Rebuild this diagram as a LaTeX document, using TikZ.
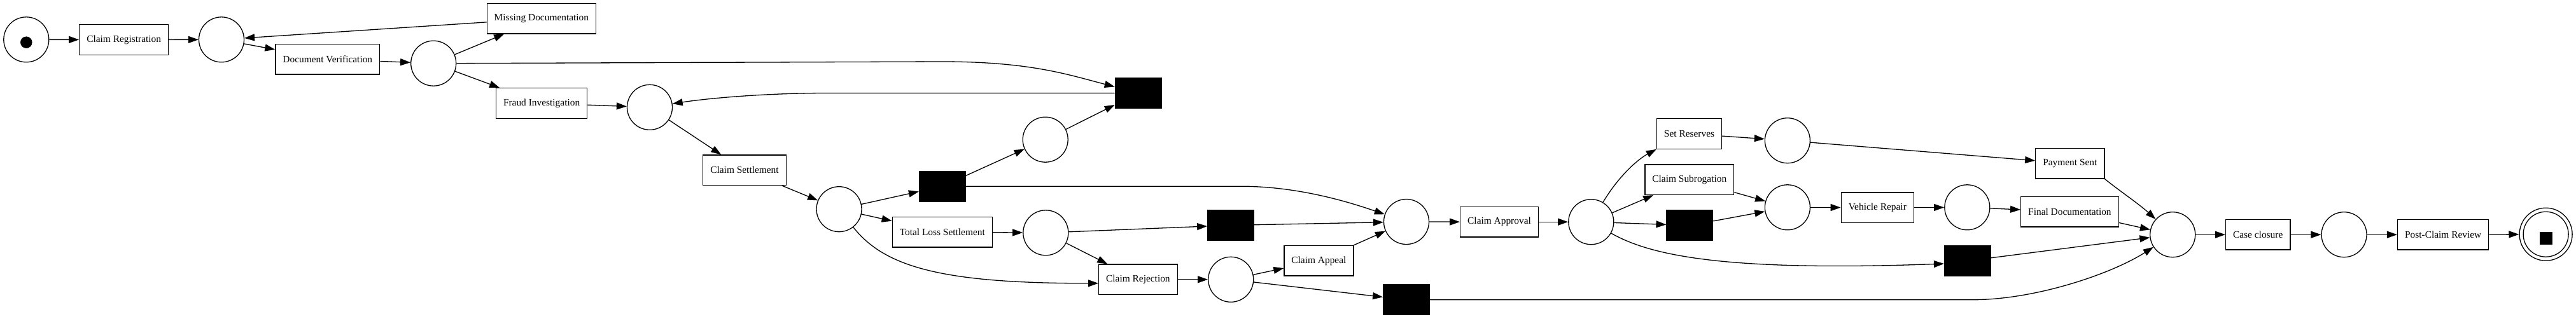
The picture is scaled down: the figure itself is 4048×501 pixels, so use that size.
\documentclass[tikz,border=0pt]{standalone}
\usepackage{fontspec}
\setmainfont{Liberation Serif}
\usetikzlibrary{arrows.meta}
\begin{document}
\begin{tikzpicture}[x=1pt,y=-1pt,
  every node/.style={font=\fontsize{15.4}{18}\selectfont},
  place/.style={draw, circle, line width=1.3pt, minimum size=71pt, inner sep=0pt},
  trans/.style={draw, rectangle, line width=1.3pt, minimum height=47.5pt, inner xsep=11.5pt, inner ysep=0pt},
  silent/.style={draw, fill=black, rectangle, line width=1.3pt, minimum width=72.5pt, minimum height=48pt, inner sep=0pt},
  arr/.style={line width=1.3pt, -{Triangle[length=16pt,width=11pt]}}
]
\useasboundingbox (0,0) rectangle (4048,501);

% places
\node[place] (start) at (41.3,62.3) {};
\node[circle, fill=black, minimum size=18.5pt, inner sep=0pt] (tokA) at (41.3,66.7) {};
\node[place] (p1) at (348,62.3) {};
\node[place] (p2) at (681.2,99.7) {};
\node[place] (p3) at (1021,168.8) {};
\node[place] (p4) at (1318.5,329.2) {};
\node[place] (p5) at (1642.7,219.7) {};
\node[place] (p6) at (1643.3,366.3) {};
\node[place] (p7) at (2210,349) {};
\node[place] (p8) at (1934.2,439.8) {};
\node[place] (p9) at (2500.3,349.2) {};
\node[place] (p10) at (2808.9,221.2) {};
\node[place] (p11) at (2808.9,326.3) {};
\node[place] (p12) at (3091.3,326.3) {};
\node[place] (p13) at (3414.2,369.2) {};
\node[place] (p14) at (3683.5,369.2) {};
\node[place, minimum size=83pt] (end) at (4000.6,368.7) {};
\draw[line width=1.3pt] (end.center) circle[radius=35.5pt];
\node[rectangle, fill=black, minimum size=20pt, inner sep=0pt] (tokB) at (4001.2,375) {};

% transitions
\node[trans] (cr) at (194.7,62.5) {Claim Registration};
\node[trans] (dv) at (514.8,93.2) {Document Verification};
\node[trans] (md) at (850.9,29.2) {Missing Documentation};
\node[trans] (fi) at (851.1,162.5) {Fraud Investigation};
\node[trans] (cs) at (1170,267.7) {Claim Settlement};
\node[trans] (tls) at (1480.8,365.2) {Total Loss Settlement};
\node[trans] (crej) at (1788.4,439.8) {Claim Rejection};
\node[trans] (capp) at (2072.4,410.3) {Claim Appeal};
\node[trans] (cappr) at (2356,349.2) {Claim Approval};
\node[trans] (sr) at (2654.5,210.5) {Set Reserves};
\node[trans] (csub) at (2654.8,282.7) {Claim Subrogation};
\node[trans] (vr) at (2950.3,326.7) {Vehicle Repair};
\node[trans] (ps) at (3252.8,257.2) {Payment Sent};
\node[trans] (fd) at (3252.4,333.3) {Final Documentation};
\node[trans] (cc) at (3548.2,369.2) {Case closure};
\node[trans] (pcr) at (3839.2,369.2) {Post-Claim Review};

% silent transitions
\node[silent] (t1) at (1480.8,293.2) {};
\node[silent] (t2) at (1788.6,146.5) {};
\node[silent] (t3) at (1934,354.5) {};
\node[silent] (t4) at (2210,471.7) {};
\node[silent] (t5) at (2655.3,354.7) {};
\node[silent] (t6) at (3091.8,410.5) {};

% arcs
\draw[arr] (start) -- (cr);
\draw[arr] (cr) -- (p1);
\draw[arr] (p1) -- (dv);
\draw[arr] (dv) -- (p2);
\draw[arr] (p2) -- (md);
\draw[arr] (md) -- (p1);
\draw[arr] (p2) -- (fi);
\draw[arr] (p2.east) -- (1480,97) .. controls (1620,97) and (1680,118) .. ([yshift=10pt]t2.west);
\draw[arr] (fi) -- (p3);
\draw[arr] (t2.west) -- (1300,146.5) .. controls (1200,146.5) and (1110,155) .. (p3);
\draw[arr] (p3) -- (cs);
\draw[arr] (cs) -- (p4);
\draw[arr] (p4) -- (t1);
\draw[arr] (p4) -- (tls);
\draw[arr] (p4) .. controls (1390,420) and (1480,446) .. ([yshift=-6pt]crej.west);
\draw[arr] (t1) -- (p5);
\draw[arr] (p5) -- (t2);
\draw[arr] (t1.east) -- (1950,293.2) .. controls (2040,293.2) and (2120,318) .. (p7);
\draw[arr] (tls) -- (p6);
\draw[arr] (p6) -- (t3);
\draw[arr] (p6) -- (crej);
\draw[arr] (t3) -- (p7);
\draw[arr] (crej) -- (p8);
\draw[arr] (p8) -- (capp);
\draw[arr] (p8) -- (t4);
\draw[arr] (capp) -- (p7);
\draw[arr] (p7) -- (cappr);
\draw[arr] (cappr) -- (p9);
\draw[arr] (p9) .. controls (2545,275) and (2575,250) .. (sr.south west);
\draw[arr] (p9) -- (csub);
\draw[arr] (p9) -- (t5);
\draw[arr] (p9) .. controls (2590,400) and (2700,428) .. ([yshift=-4.5pt]t6.west);
\draw[arr] (sr) -- (p10);
\draw[arr] (csub) -- (p11);
\draw[arr] (t5) -- (p11);
\draw[arr] (p10) -- (ps);
\draw[arr] (p11) -- (vr);
\draw[arr] (vr) -- (p12);
\draw[arr] (p12) -- (fd);
\draw[arr] (ps.south east) .. controls (3330,300) and (3360,320) .. (p13);
\draw[arr] (fd) -- (p13);
\draw[arr] (t6) -- (p13);
\draw[arr] (t4.east) -- (3100,471.7) .. controls (3200,471.7) and (3320,430) .. (p13);
\draw[arr] (p13) -- (cc);
\draw[arr] (cc) -- (p14);
\draw[arr] (p14) -- (pcr);
\draw[arr] (pcr) -- (end);
\end{tikzpicture}
\end{document}
